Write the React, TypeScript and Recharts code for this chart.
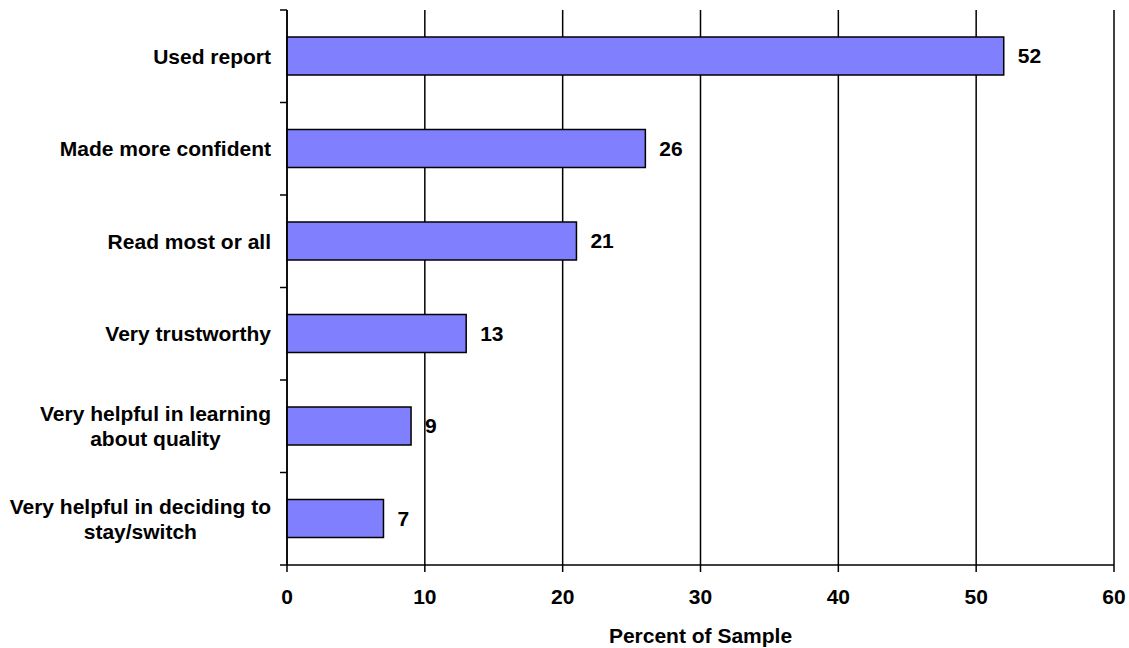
import { Bar, BarChart, CartesianGrid, LabelList, XAxis, YAxis } from "recharts";

const categories = [
  "Used report",
  "Made more confident",
  "Read most or all",
  "Very trustworthy",
  "Very helpful in learning\nabout quality",
  "Very helpful in deciding to\nstay/switch",
];
const percents = [52, 26, 21, 13, 9, 7];
const xTicks = [0, 10, 20, 30, 40, 50, 60];

const FONT = "'Liberation Sans', Arial, sans-serif";
const FS = 21;
const BAND = 555 / 6;

const data = categories.map((name, i) => ({ name, value: percents[i] }));

let ctx: CanvasRenderingContext2D | null = null;
function textWidth(s: string) {
  if (!ctx) ctx = document.createElement("canvas").getContext("2d");
  if (!ctx) return s.length * 10;
  ctx.font = `bold ${FS}px ${FONT}`;
  return ctx.measureText(s).width;
}

function CategoryTick(props: any) {
  const { y, payload, index } = props;
  const lines = String(payload.value).split("\n");
  const right = 271;
  const axisX = 287;
  const lh = 25;
  const maxW = Math.max(...lines.map(textWidth));
  const cx = right - maxW / 2;
  const first = y + 7.5 - ((lines.length - 1) * lh) / 2;
  return (
    <g>
      <line x1={axisX - 7} x2={axisX} y1={y - BAND / 2} y2={y - BAND / 2} stroke="#000" strokeWidth={1.5} />
      {index === categories.length - 1 && (
        <line x1={axisX - 7} x2={axisX} y1={y + BAND / 2} y2={y + BAND / 2} stroke="#000" strokeWidth={1.5} />
      )}
      {lines.map((l, i) => (
        <text
          key={i}
          x={lines.length > 1 ? cx : right}
          y={first + i * lh}
          textAnchor={lines.length > 1 ? "middle" : "end"}
          fontFamily={FONT}
          fontWeight="bold"
          fontSize={FS}
          fill="#000"
        >
          {l}
        </text>
      ))}
    </g>
  );
}

function NumberTick(props: any) {
  const { x, payload } = props;
  return (
    <text x={x} y={604} textAnchor="middle" fontFamily={FONT} fontWeight="bold" fontSize={FS} fill="#000">
      {payload.value}
    </text>
  );
}

export default function App() {
  return (
    <div style={{ position: "absolute", left: 0, top: 0, background: "#fff" }}>
      <BarChart
        width={1129}
        height={648}
        data={data}
        layout="vertical"
        margin={{ top: 10, right: 15, bottom: 0, left: 0 }}
      >
        <CartesianGrid horizontal={false} stroke="#000" strokeWidth={1.5} />
        <XAxis
          type="number"
          domain={[0, 60]}
          ticks={xTicks}
          interval={0}
          height={83}
          axisLine={{ stroke: "#000", strokeWidth: 1.5 }}
          tickLine={{ stroke: "#000", strokeWidth: 1.5 }}
          tickSize={7}
          tick={<NumberTick />}
          label={{
            content: (p: any) => (
              <text
                x={p.viewBox.x + p.viewBox.width / 2}
                y={642.5}
                textAnchor="middle"
                fontFamily={FONT}
                fontWeight="bold"
                fontSize={FS}
                fill="#000"
              >
                Percent of Sample
              </text>
            ),
          }}
        />
        <YAxis
          type="category"
          dataKey="name"
          width={287}
          interval={0}
          axisLine={{ stroke: "#000", strokeWidth: 1.5 }}
          tickLine={false}
          tick={<CategoryTick />}
        />
        <Bar
          dataKey="value"
          fill="#8080FF"
          stroke="#000"
          strokeWidth={1.5}
          barSize={38}
          isAnimationActive={false}
        >
          <LabelList
            dataKey="value"
            position="right"
            offset={14}
            fontFamily={FONT}
            fontWeight="bold"
            fontSize={FS}
            fill="#000"
          />
        </Bar>
      </BarChart>
    </div>
  );
}
